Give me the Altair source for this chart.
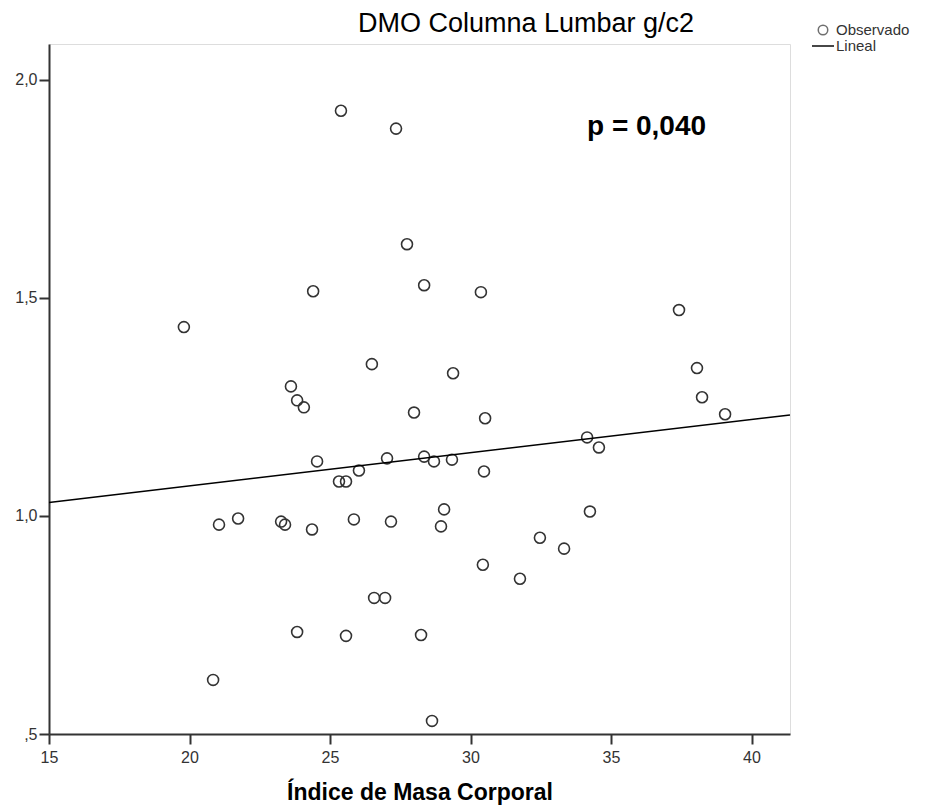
import altair as alt
import pandas as pd

# Índice de Masa Corporal (x) and DMO Columna Lumbar g/c2 (y)
bmi = [25.39, 27.35, 27.74, 24.40, 28.35, 30.37, 19.80, 26.49, 29.38, 23.61,
       23.83, 24.07, 27.99, 30.52, 34.15, 34.57, 37.42, 38.06, 38.24, 39.06,
       24.54, 27.03, 26.03, 25.32, 25.57, 28.35, 28.70, 29.34, 30.48, 21.05,
       21.73, 23.26, 23.40, 24.36, 25.85, 27.17, 29.06, 28.95, 34.25, 32.47,
       33.33, 30.44, 31.76, 26.57, 26.96, 23.83, 25.57, 28.24, 20.84, 28.63]
dmo = [1.929, 1.888, 1.623, 1.515, 1.529, 1.513, 1.433, 1.348, 1.327, 1.297,
       1.265, 1.249, 1.237, 1.224, 1.180, 1.157, 1.472, 1.339, 1.272, 1.233,
       1.125, 1.132, 1.104, 1.079, 1.079, 1.136, 1.125, 1.129, 1.102, 0.980,
       0.994, 0.987, 0.980, 0.969, 0.992, 0.987, 1.015, 0.976, 1.010, 0.950,
       0.925, 0.888, 0.856, 0.812, 0.812, 0.734, 0.725, 0.727, 0.624, 0.530]

x_ticks = [15, 20, 25, 30, 35, 40]
y_ticks = [0.5, 1.0, 1.5, 2.0]
x_domain = [15, 41.37]
y_domain = [0.5, 2.082]

title_text = "DMO Columna Lumbar g/c2"
p_text = "p = 0,040"
legend_labels = ["Observado", "Lineal"]

df = pd.DataFrame({"imc": bmi, "dmo": dmo})

FONT = "Liberation Sans"
DARK = "#333333"

x_enc = alt.X("imc:Q", scale=alt.Scale(domain=x_domain, nice=False, zero=False),
              axis=alt.Axis(values=x_ticks, title="Índice de Masa Corporal",
                            titleFont=FONT, titleFontSize=23, titleFontWeight="bold",
                            titleColor="black", titlePadding=16,
                            labelFont=FONT, labelFontSize=16, labelColor=DARK,
                            labelPadding=5, labelFlush=False,
                            tickSize=10, tickColor=DARK, tickWidth=2,
                            domainColor=DARK, domainWidth=2, grid=False))
y_enc = alt.Y("dmo:Q", scale=alt.Scale(domain=y_domain, nice=False, zero=False),
              axis=alt.Axis(values=y_ticks, title=None,
                            labelExpr="datum.value < 1 ? ',5' : replace(format(datum.value, '.1f'), '.', ',')",
                            labelFont=FONT, labelFontSize=16, labelColor=DARK,
                            labelPadding=2, labelFlush=False,
                            tickSize=10, tickColor=DARK, tickWidth=2,
                            domainColor=DARK, domainWidth=2, grid=False))

base = alt.Chart(df)

points = base.mark_point(shape="circle", filled=False, size=120, strokeWidth=1.6,
                         color=DARK, opacity=1).encode(x=x_enc, y=y_enc)

line = base.transform_regression("imc", "dmo", method="linear", extent=x_domain).mark_line(
    color="black", strokeWidth=1.6).encode(x="imc:Q", y="dmo:Q")

title_mark = alt.Chart(pd.DataFrame({"t": [title_text]})).mark_text(
    font=FONT, fontSize=27, color="black", align="center", baseline="alphabetic"
).encode(text="t:N", x=alt.value(477), y=alt.value(-12))

p_mark = alt.Chart(pd.DataFrame({"t": [p_text]})).mark_text(
    font=FONT, fontSize=28, fontWeight="bold", color="black", align="left", baseline="alphabetic"
).encode(text="t:N", x=alt.value(538), y=alt.value(91))

leg_text = alt.Chart(pd.DataFrame({"t": legend_labels, "yy": [-14, 2]})).mark_text(
    font=FONT, fontSize=15, color=DARK, align="left", baseline="middle"
).encode(text="t:N", x=alt.value(787), y=alt.Y("yy:Q", scale=None))

leg_circle = alt.Chart(pd.DataFrame({"t": [legend_labels[0]]})).mark_point(
    shape="circle", filled=False, size=90, strokeWidth=1.5, color=DARK
).encode(x=alt.value(774), y=alt.value(-14))

leg_line = alt.Chart(pd.DataFrame({"t": [legend_labels[1]]})).mark_rule(
    color=DARK, strokeWidth=1.8
).encode(x=alt.value(763), x2=alt.value(785), y=alt.value(2))

chart = alt.layer(points, line, title_mark, p_mark, leg_text, leg_circle, leg_line).properties(
    width=741, height=690,
    autosize=alt.AutoSizeParams(type="none"),
    padding={"left": 41, "top": 36, "right": 130, "bottom": 74},
).configure_view(stroke="#8a8a8a", strokeWidth=1.5).configure(background="white")

chart.save("out.html", embed_options={"renderer": "svg", "actions": False})
